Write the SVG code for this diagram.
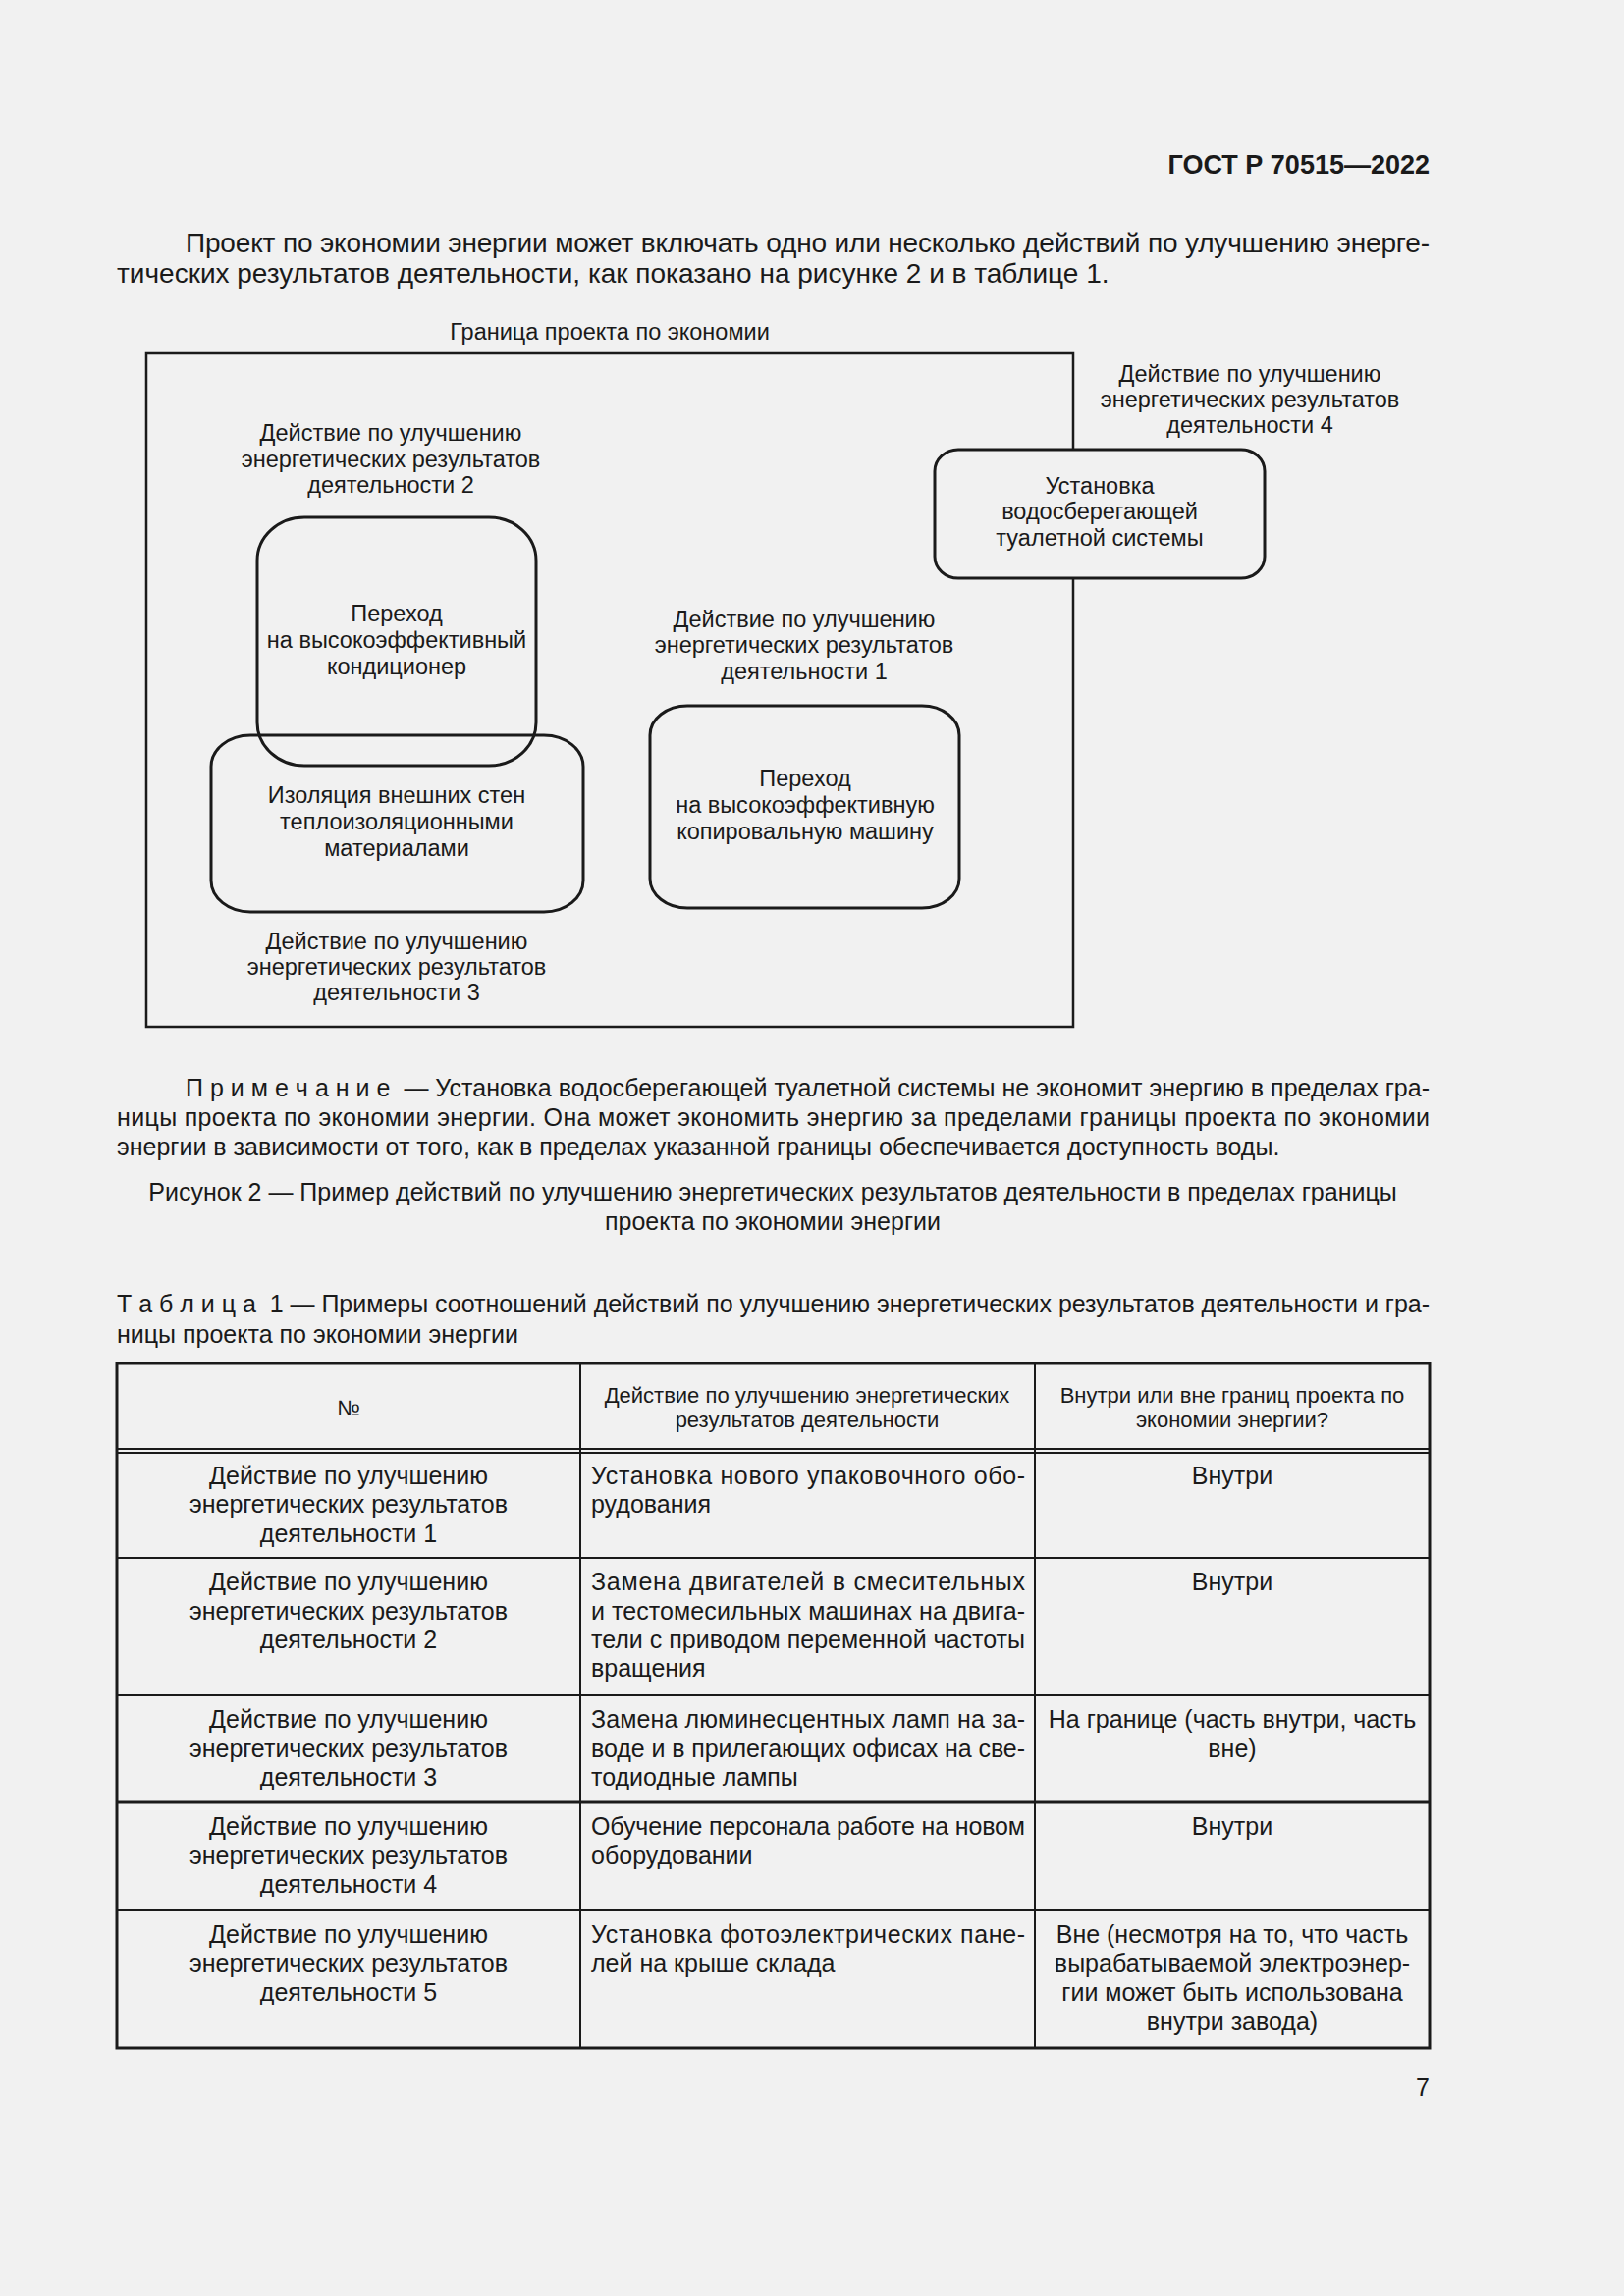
<svg xmlns="http://www.w3.org/2000/svg" width="1654" height="2339" viewBox="0 0 1654 2339">
<style>
text { font-family: "Liberation Sans", Arial, "Noto Sans", sans-serif; fill: #1a1a1a; }
.hdr { font-size: 27px; font-weight: bold; text-anchor: end; }
.body { font-size: 28px; }
.note { font-size: 25px; }
.cap { font-size: 25px; text-anchor: middle; }
.dg { font-size: 23.5px; text-anchor: middle; }
.th { font-size: 22px; text-anchor: middle; }
.tc { font-size: 25px; text-anchor: middle; }
.tl { font-size: 25px; }
.box { fill: none; stroke: #1a1a1a; stroke-width: 3; }
.boxf { fill: #f1f1f1; stroke: #1a1a1a; stroke-width: 3; }
.bnd { fill: none; stroke: #1a1a1a; stroke-width: 2.5; }
.tb { stroke: #1a1a1a; stroke-width: 2; fill: none; }
.tbk { stroke: #1a1a1a; stroke-width: 3; fill: none; }
</style>
<rect x="0" y="0" width="1654" height="2339" fill="#f1f1f1"/>

<text class="hdr" x="1456" y="177">ГОСТ Р 70515—2022</text>

<text class="body" x="189" y="257" textLength="1267" lengthAdjust="spacing">Проект по экономии энергии может включать одно или несколько действий по улучшению энерге-</text>
<text class="body" x="119" y="288">тических результатов деятельности, как показано на рисунке 2 и в таблице 1.</text>

<!-- Figure 2 -->
<g id="boundary">
  <rect class="bnd" x="149" y="360" width="944" height="686"/>
  <text class="dg" x="621" y="346">Граница проекта по экономии</text>
</g>

<g id="connectors"></g>

<g id="action4">
  <text class="dg" x="1273" y="389">Действие по улучшению</text>
  <text class="dg" x="1273" y="415">энергетических результатов</text>
  <text class="dg" x="1273" y="441">деятельности 4</text>
  <rect class="boxf" x="952" y="458" width="336" height="131" rx="24" ry="22"/>
  <text class="dg" x="1120" y="503">Установка</text>
  <text class="dg" x="1120" y="529">водосберегающей</text>
  <text class="dg" x="1120" y="556">туалетной системы</text>
</g>

<g id="action2">
  <text class="dg" x="398" y="449">Действие по улучшению</text>
  <text class="dg" x="398" y="476">энергетических результатов</text>
  <text class="dg" x="398" y="502">деятельности 2</text>
  <rect class="box" x="262" y="527" width="284" height="253" rx="48" ry="44"/>
  <text class="dg" x="404" y="633">Переход</text>
  <text class="dg" x="404" y="660">на высокоэффективный</text>
  <text class="dg" x="404" y="687">кондиционер</text>
</g>

<g id="action3">
  <rect class="box" x="215" y="749" width="379" height="180" rx="40" ry="32"/>
  <text class="dg" x="404" y="818">Изоляция внешних стен</text>
  <text class="dg" x="404" y="845">теплоизоляционными</text>
  <text class="dg" x="404" y="872">материалами</text>
  <text class="dg" x="404" y="967">Действие по улучшению</text>
  <text class="dg" x="404" y="993">энергетических результатов</text>
  <text class="dg" x="404" y="1019">деятельности 3</text>
</g>

<g id="action1">
  <text class="dg" x="819" y="639">Действие по улучшению</text>
  <text class="dg" x="819" y="665">энергетических результатов</text>
  <text class="dg" x="819" y="692">деятельности 1</text>
  <rect class="box" x="662" y="719" width="315" height="206" rx="38" ry="30"/>
  <text class="dg" x="820" y="801">Переход</text>
  <text class="dg" x="820" y="828">на высокоэффективную</text>
  <text class="dg" x="820" y="855">копировальную машину</text>
</g>

<!-- Note and caption -->
<text class="note" x="189" y="1117" textLength="1267" lengthAdjust="spacing">П р и м е ч а н и е&#160; — Установка водосберегающей туалетной системы не экономит энергию в пределах гра-</text>
<text class="note" x="119" y="1147" textLength="1337" lengthAdjust="spacing">ницы проекта по экономии энергии. Она может экономить энергию за пределами границы проекта по экономии</text>
<text class="note" x="119" y="1177">энергии в зависимости от того, как в пределах указанной границы обеспечивается доступность воды.</text>

<text class="cap" x="787" y="1223">Рисунок 2 — Пример действий по улучшению энергетических результатов деятельности в пределах границы</text>
<text class="cap" x="787" y="1253">проекта по экономии энергии</text>

<!-- Table 1 -->
<text class="note" x="119" y="1337" textLength="1337" lengthAdjust="spacing">Т а б л и ц а&#160; 1 — Примеры соотношений действий по улучшению энергетических результатов деятельности и гра-</text>
<text class="note" x="119" y="1368">ницы проекта по экономии энергии</text>

<g id="table1">
  <rect class="tbk" x="119" y="1389" width="1337" height="697"/>
  <line class="tb" x1="591" y1="1389" x2="591" y2="2086"/>
  <line class="tb" x1="1054" y1="1389" x2="1054" y2="2086"/>
  <line class="tb" x1="119" y1="1476" x2="1456" y2="1476"/>
  <line class="tb" x1="119" y1="1480" x2="1456" y2="1480"/>
  <line class="tb" x1="119" y1="1587" x2="1456" y2="1587"/>
  <line class="tb" x1="119" y1="1727" x2="1456" y2="1727"/>
  <line class="tbk" x1="119" y1="1836" x2="1456" y2="1836"/>
  <line class="tb" x1="119" y1="1946" x2="1456" y2="1946"/>

  <text class="th" x="355" y="1442">№</text>
  <text class="th" x="822" y="1429">Действие по улучшению энергетических</text>
  <text class="th" x="822" y="1454">результатов деятельности</text>
  <text class="th" x="1255" y="1429">Внутри или вне границ проекта по</text>
  <text class="th" x="1255" y="1454">экономии энергии?</text>

  <g id="row1">
    <text class="tc" x="355" y="1512">Действие по улучшению</text>
    <text class="tc" x="355" y="1541">энергетических результатов</text>
    <text class="tc" x="355" y="1571">деятельности 1</text>
    <text class="tl" x="602" y="1512" textLength="442" lengthAdjust="spacing">Установка нового упаковочного обо-</text>
    <text class="tl" x="602" y="1541">рудования</text>
    <text class="tc" x="1255" y="1512">Внутри</text>
  </g>
  <g id="row2">
    <text class="tc" x="355" y="1620">Действие по улучшению</text>
    <text class="tc" x="355" y="1650">энергетических результатов</text>
    <text class="tc" x="355" y="1679">деятельности 2</text>
    <text class="tl" x="602" y="1620" textLength="442" lengthAdjust="spacing">Замена двигателей в смесительных</text>
    <text class="tl" x="602" y="1650" textLength="442" lengthAdjust="spacing">и тестомесильных машинах на двига-</text>
    <text class="tl" x="602" y="1679" textLength="442" lengthAdjust="spacing">тели с приводом переменной частоты</text>
    <text class="tl" x="602" y="1708">вращения</text>
    <text class="tc" x="1255" y="1620">Внутри</text>
  </g>
  <g id="row3">
    <text class="tc" x="355" y="1760">Действие по улучшению</text>
    <text class="tc" x="355" y="1790">энергетических результатов</text>
    <text class="tc" x="355" y="1819">деятельности 3</text>
    <text class="tl" x="602" y="1760" textLength="442" lengthAdjust="spacing">Замена люминесцентных ламп на за-</text>
    <text class="tl" x="602" y="1790" textLength="442" lengthAdjust="spacing">воде и в прилегающих офисах на све-</text>
    <text class="tl" x="602" y="1819">тодиодные лампы</text>
    <text class="tc" x="1255" y="1760">На границе (часть внутри, часть</text>
    <text class="tc" x="1255" y="1790">вне)</text>
  </g>
  <g id="row4">
    <text class="tc" x="355" y="1869">Действие по улучшению</text>
    <text class="tc" x="355" y="1899">энергетических результатов</text>
    <text class="tc" x="355" y="1928">деятельности 4</text>
    <text class="tl" x="602" y="1869" textLength="442" lengthAdjust="spacing">Обучение персонала работе на новом</text>
    <text class="tl" x="602" y="1899">оборудовании</text>
    <text class="tc" x="1255" y="1869">Внутри</text>
  </g>
  <g id="row5">
    <text class="tc" x="355" y="1979">Действие по улучшению</text>
    <text class="tc" x="355" y="2009">энергетических результатов</text>
    <text class="tc" x="355" y="2038">деятельности 5</text>
    <text class="tl" x="602" y="1979" textLength="442" lengthAdjust="spacing">Установка фотоэлектрических пане-</text>
    <text class="tl" x="602" y="2009">лей на крыше склада</text>
    <text class="tc" x="1255" y="1979">Вне (несмотря на то, что часть</text>
    <text class="tc" x="1255" y="2009">вырабатываемой электроэнер-</text>
    <text class="tc" x="1255" y="2038">гии может быть использована</text>
    <text class="tc" x="1255" y="2068">внутри завода)</text>
  </g>
</g>

<text class="note" x="1456" y="2135" text-anchor="end">7</text>
</svg>
